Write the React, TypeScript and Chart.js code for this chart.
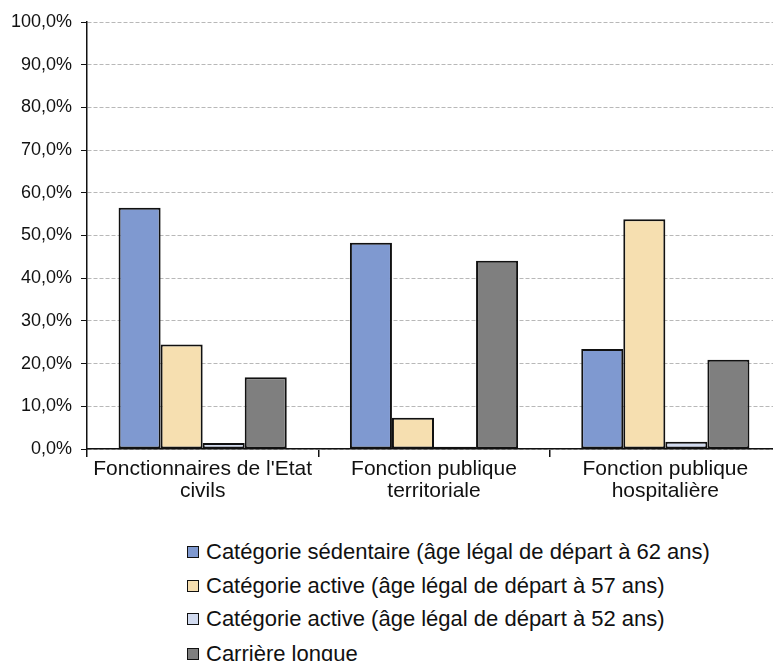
import React, { useEffect, useRef } from "react";
import { Chart, registerables } from "chart.js";

Chart.register(...registerables);

const categories: string[][] = [
  ["Fonctionnaires de l'Etat", "civils"],
  ["Fonction publique", "territoriale"],
  ["Fonction publique", "hospitalière"],
];

const seriesNames: string[] = [
  "Catégorie sédentaire (âge légal de départ à 62 ans)",
  "Catégorie active (âge légal de départ à 57 ans)",
  "Catégorie active (âge légal de départ à 52 ans)",
  "Carrière longue",
];

const sedentaire: number[] = [56.5, 48.3, 23.4];
const active57: number[] = [24.5, 7.3, 53.8];
const active52: number[] = [1.4, 0.5, 1.7];
const carriereLongue: number[] = [16.8, 44.1, 20.9];

const seriesColors: string[] = ["#7f99d0", "#f6dfb0", "#d1daef", "#7f7f7f"];

const FONT = "'Liberation Sans', Arial, sans-serif";

export default function App() {
  const canvasRef = useRef<HTMLCanvasElement | null>(null);

  useEffect(() => {
    if (!canvasRef.current) return;
    const values = [sedentaire, active57, active52, carriereLongue];
    const chart = new Chart(canvasRef.current, {
      type: "bar",
      data: {
        labels: categories,
        datasets: values.map((v, i) => ({
          label: seriesNames[i],
          data: v,
          backgroundColor: seriesColors[i],
          borderColor: "#111",
          borderWidth: 2,
          borderSkipped: false,
          categoryPercentage: 0.727,
          barPercentage: 1,
        })),
      },
      options: {
        animation: false,
        responsive: false,
        devicePixelRatio: 1,
        layout: { padding: { top: 22, right: 4, left: 0, bottom: 0 } },
        plugins: {
          legend: { display: false },
          tooltip: { enabled: false },
        },
        scales: {
          x: {
            grid: {
              display: true,
              drawOnChartArea: false,
              color: "#111",
              tickLength: 8,
              lineWidth: 1.5,
            },
            border: { display: true, color: "#111", width: 1.5 },
            ticks: {
              color: "#111",
              font: { family: FONT, size: 21, lineHeight: 1.05 },
              padding: 1,
              maxRotation: 0,
              autoSkip: false,
            },
            afterFit: (scale: any) => {
              scale.height = 71;
            },
          },
          y: {
            min: 0,
            max: 100,
            ticks: {
              stepSize: 10,
              color: "#111",
              font: { family: FONT, size: 18 },
              padding: 9,
              callback: (v: any) => Number(v).toFixed(1).replace(".", ",") + "%",
            },
            grid: {
              color: "#b8b8b8",
              tickColor: "#111",
              tickLength: 6,
              lineWidth: 1,
            },
            border: { display: true, color: "#111", width: 1.5, dash: [4, 2] },
            afterFit: (scale: any) => {
              scale.width = 87;
            },
          },
        },
      },
    });
    return () => chart.destroy();
  }, []);

  const rowCenters = [552, 586, 619, 654];

  return (
    <div
      style={{
        position: "fixed",
        left: 0,
        top: 0,
        width: 773,
        height: 661,
        overflow: "hidden",
        background: "#fff",
      }}
    >
      <canvas
        ref={canvasRef}
        width={785}
        height={520}
        style={{ position: "absolute", left: 0, top: 0, width: 785, height: 520 }}
      />
      {seriesNames.map((name, i) => (
        <div
          key={name}
          style={{
            position: "absolute",
            left: 187,
            top: rowCenters[i] - 17,
            height: 34,
            display: "flex",
            alignItems: "center",
            whiteSpace: "nowrap",
            fontFamily: FONT,
            fontSize: 22,
            color: "#111",
          }}
        >
          <span
            style={{
              display: "inline-block",
              width: 10,
              height: 10,
              border: "1.5px solid #111",
              background: seriesColors[i],
              marginRight: 7,
            }}
          />
          <span>{name}</span>
        </div>
      ))}
    </div>
  );
}
